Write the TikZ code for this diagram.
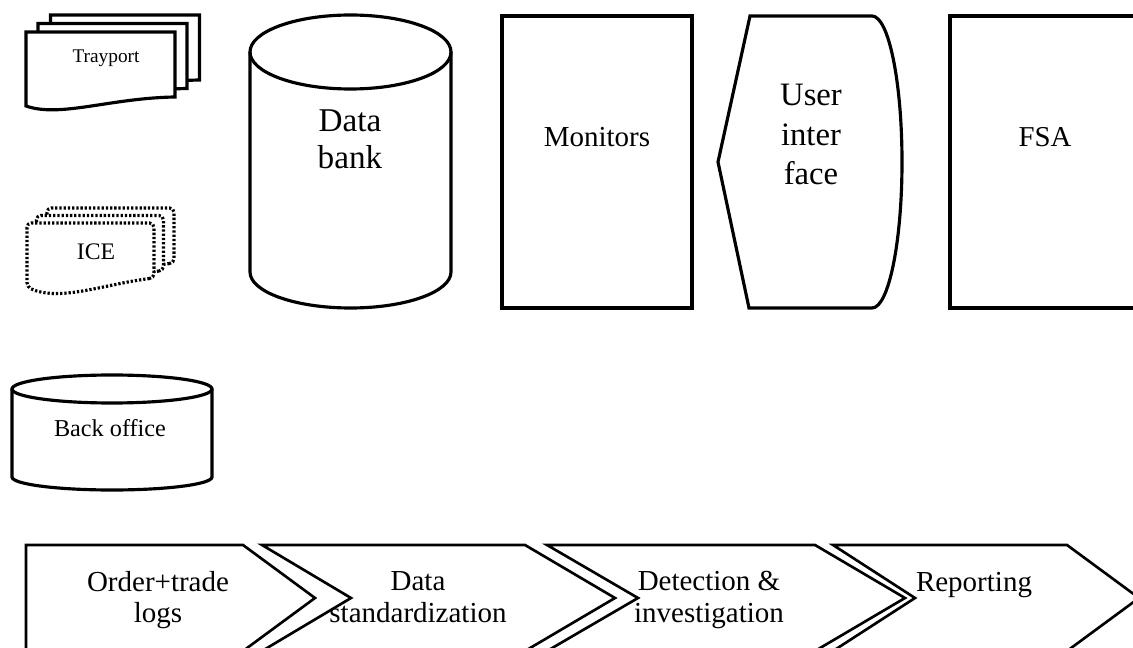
\documentclass[tikz,border=0pt]{standalone}
\usepackage{fontspec}
\setmainfont{Liberation Serif}
\usepackage{tikz}

\tikzset{
  outline/.style={draw, line width=1.8pt, line join=miter},
  chevline/.style={draw, line width=1.5pt, line join=miter},
  dotline/.style={draw, line width=1.8pt, dash pattern=on 1.3pt off 1.1pt, rounded corners=2.5pt},
  lbl/.style={inner sep=0pt, align=center},
}
\newcommand{\fsz}[2]{\fontsize{#1}{#2}\selectfont}

\begin{document}
\begin{tikzpicture}[x=0.02cm, y=-0.02cm]
  \useasboundingbox (0,0) rectangle (1133,648);

  % stacked documents
  \foreach \dx/\dy in {24.5/-17, 12/-8.5, 0/0}{
    \filldraw[outline, fill=white, shift={(\dx,\dy)}]
      (175,97) .. controls (110,98) and (60,118) .. (26,106) -- (26,32) -- (175,32) -- cycle;
  }
  \node[lbl, font=\fsz{11}{13}] (trayport) at (106,58.5) {Trayport};

  \foreach \dx/\dy in {20/-15, 9.5/-7.5, 0/0}{
    \filldraw[dotline, fill=white, shift={(\dx,\dy)}]
      (154,278) .. controls (105,284) and (60,302) .. (27,287) -- (27,223) -- (154,223) -- cycle;
  }
  \node[lbl, font=\fsz{13.5}{16}] (ice) at (96,252) {ICE};

  % storage
  \draw[outline] (12,389) -- (12,477) arc[start angle=180, end angle=0, x radius=100, y radius=13] -- (212,389);
  \draw[outline] (112,389) ellipse [x radius=100, y radius=14];
  \node[lbl, font=\fsz{13.8}{16}] (backoffice) at (110,428.5) {Back office};

  \draw[outline] (250,52) -- (250,272) arc[start angle=180, end angle=0, x radius=100.5, y radius=36] -- (451,52);
  \draw[outline] (350.5,52) ellipse [x radius=100.5, y radius=37];
  \node[lbl, font=\fsz{18.9}{21.2}] (databank) at (350,139) {Data\\bank};

  % process boxes
  \draw[outline] (502,16) rectangle (692,308);
  \node[lbl, font=\fsz{16.5}{19}] (monitors) at (597,137) {Monitors};

  \draw[outline] (750,16) -- (872,16) arc[start angle=-90, end angle=90, x radius=30, y radius=146]
    -- (749,308) -- (718,162) -- cycle;
  \node[lbl, font=\fsz{18.6}{22.4}] (ui) at (811,134.5) {User\\inter\\face};

  \draw[outline] (950,16) rectangle (1150,308);
  \node[lbl, font=\fsz{16.4}{19}] (fsa) at (1045,137.5) {FSA};

  % chevron chain
  \draw[chevline] (26,545) -- (243,545) -- (315,598) -- (243,651) -- (26,651) -- cycle;
  \draw[chevline] (262,545) -- (525,545) -- (615,598) -- (525,651) -- (262,651) -- (351,598) -- cycle;
  \draw[chevline] (547,545) -- (815,545) -- (905,598) -- (815,651) -- (547,651) -- (638,598) -- cycle;
  \draw[chevline] (833,545) -- (1067,545) -- (1139,598) -- (1067,651) -- (833,651) -- (915,598) -- cycle;
  \node[lbl, font=\fsz{16.5}{18.1}] (orderlogs) at (158,600) {Order+trade\\logs};
  \node[lbl, font=\fsz{16.5}{18.1}] (standard) at (418,597.5) {Data\\standardization};
  \node[lbl, font=\fsz{16.5}{18.1}] (detect) at (709,600) {Detection \&\\investigation};
  \node[lbl, font=\fsz{16.5}{18.1}] (report) at (974,585) {Reporting};
\end{tikzpicture}
\end{document}
